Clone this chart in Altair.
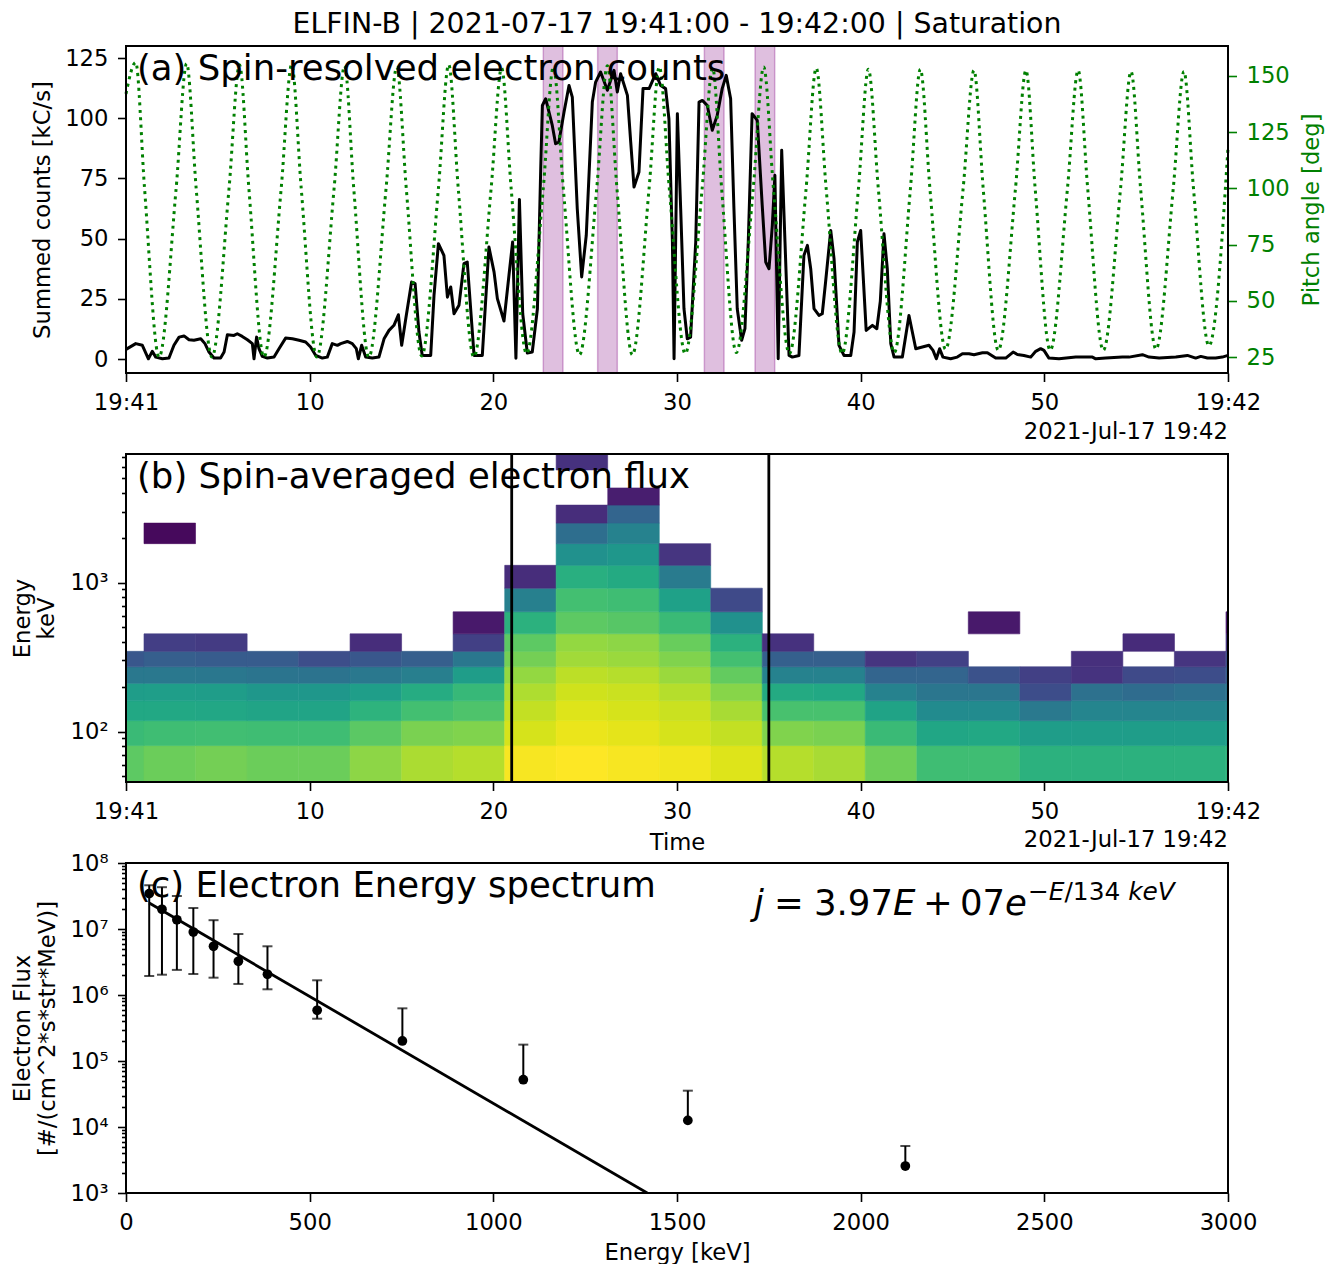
import math
import altair as alt
import pandas as pd

FONT = "DejaVu Sans"
W = 1102
HA, HB, HC = 327, 328, 330
GAP = 81
TICK_FS = 22.7
LABEL_FS = 35.5

# ---------------- panel (a): spin-resolved counts / pitch angle ----------------
counts_pts = [
    (0.00, 4.0), (0.53, 6.4), (0.89, 5.7), (1.22, 0.1), (1.43, 3.2), (1.62, 0.8), (1.98, 0.1),
    (2.34, 0.4), (2.61, 5.7), (2.89, 9.1), (3.16, 9.6), (3.43, 8.0), (3.70, 7.8), (4.07, 8.4),
    (4.30, 6.4), (4.52, 2.9), (4.79, 0.4), (5.15, 0.4), (5.34, 2.9), (5.52, 10.1), (5.88, 9.8),
    (6.06, 10.5), (6.33, 9.4), (6.61, 8.0), (6.88, 6.4), (6.97, 0.1), (7.11, 9.1), (7.24, 4.3),
    (7.42, 1.1), (7.70, 0.4), (8.06, 0.8), (8.33, 4.3), (8.69, 8.7), (9.06, 8.4), (9.42, 7.8),
    (9.78, 7.1), (10.05, 5.0), (10.33, 1.5), (10.69, 0.4), (10.96, 0.8), (11.23, 6.4), (11.51, 5.7),
    (11.69, 6.4), (12.05, 7.3), (12.32, 6.4), (12.54, 4.3), (12.65, 0.1), (12.83, 5.7), (13.05, 0.8),
    (13.41, 0.4), (13.77, 0.8), (14.05, 8.4), (14.32, 11.9), (14.59, 14.0), (14.83, 18.4), (15.01, 5.7),
    (15.26, 18.1), (15.55, 32.0), (15.74, 31.3), (15.95, 11.2), (16.13, 1.5), (16.59, 1.5), (16.77, 26.4),
    (17.01, 47.9), (17.31, 43.0), (17.50, 25.7), (17.68, 29.9), (17.86, 18.8), (18.13, 22.3), (18.40, 39.6),
    (18.58, 40.3), (18.95, 1.5), (19.40, 1.5), (19.76, 46.5), (20.04, 36.1), (20.22, 25.1), (20.58, 15.8),
    (20.85, 34.7), (21.05, 48.6), (21.23, 0.3), (21.42, 66.3), (21.60, 18.8), (21.85, 2.5), (22.12, 2.9),
    (22.40, 20.9), (22.58, 79.0), (22.67, 105.3), (22.85, 108.1), (23.21, 97.0), (23.39, 89.4), (23.57, 90.1),
    (23.85, 102.6), (24.12, 113.6), (24.30, 108.8), (24.57, 62.4), (24.81, 34.1), (25.06, 51.4), (25.39, 106.7),
    (25.57, 115.0), (25.84, 119.2), (26.21, 111.6), (26.57, 119.9), (26.75, 110.9), (26.93, 118.5), (27.30, 109.5),
    (27.48, 90.1), (27.66, 71.4), (27.93, 77.7), (28.15, 112.3), (28.48, 112.3), (28.84, 118.5), (29.11, 113.6),
    (29.38, 112.3), (29.56, 99.8), (29.75, 48.6), (29.84, 0.1), (30.02, 101.9), (30.20, 62.4), (30.38, 20.9),
    (30.56, 8.4), (30.74, 9.1), (31.02, 48.6), (31.20, 106.7), (31.38, 107.4), (31.65, 105.3), (31.92, 95.0),
    (32.19, 101.2), (32.46, 112.3), (32.68, 117.8), (32.92, 108.1), (33.10, 62.4), (33.28, 20.9), (33.52, 7.8),
    (33.70, 12.6), (33.88, 48.6), (34.09, 101.9), (34.37, 99.1), (34.64, 63.8), (34.83, 40.3), (35.01, 37.5),
    (35.19, 55.5), (35.33, 76.3), (35.51, 0.1), (35.70, 86.7), (35.88, 48.6), (36.10, 1.5), (36.28, 0.8),
    (36.64, 1.5), (36.91, 43.0), (37.10, 47.2), (37.28, 37.5), (37.46, 20.9), (37.73, 18.1), (37.91, 18.8),
    (38.09, 32.0), (38.37, 53.4), (38.55, 41.7), (38.82, 5.7), (39.09, 1.5), (39.46, 1.5), (39.64, 11.2),
    (39.82, 48.6), (40.00, 53.4), (40.30, 11.9), (40.64, 14.0), (40.88, 12.6), (41.07, 24.0), (41.27, 52.0),
    (41.45, 37.5), (41.64, 6.4), (41.82, 0.8), (42.27, 0.8), (42.63, 18.1), (43.00, 4.3), (43.36, 5.0),
    (43.72, 5.7), (43.94, 3.6), (44.12, 0.1), (44.30, 4.3), (44.48, 0.8), (44.90, 0.1), (45.26, 0.8),
    (45.54, 2.2), (45.90, 2.2), (46.17, 1.8), (46.63, 2.6), (46.90, 2.6), (47.35, 0.4), (47.90, 0.4),
    (48.30, 2.9), (48.53, 1.9), (48.89, 1.5), (49.26, 0.8), (49.53, 3.2), (49.80, 4.3), (49.98, 3.6),
    (50.25, 0.4), (50.80, 0.1), (51.71, 0.8), (52.62, 0.8), (52.80, 0.1), (53.34, 0.4), (54.25, 0.8),
    (54.61, 0.8), (55.34, 1.8), (55.70, 0.8), (56.25, 0.4), (57.16, 0.8), (57.79, 1.5), (58.24, 0.4),
    (58.52, 1.1), (58.88, 0.4), (59.33, 0.4), (59.69, 0.8), (60.00, 1.5),
]

pitch_pts = [
    (0.00, 142), (0.53, 156), (1.01, 100), (1.80, 25), (2.73, 100), (3.30, 155.5), (3.82, 100),
    (4.68, 25), (5.61, 100), (6.18, 155), (6.69, 100), (7.51, 25), (8.45, 100), (9.02, 155),
    (9.54, 100), (10.39, 25), (11.33, 100), (11.90, 154.5), (12.40, 100), (13.22, 25), (14.16, 100),
    (14.74, 154), (15.26, 100), (16.10, 25.5), (17.01, 100), (17.57, 155), (18.09, 100), (18.94, 25),
    (19.88, 100), (20.45, 153.5), (20.97, 100), (21.81, 26.5), (22.72, 100), (23.27, 154), (23.81, 100),
    (24.69, 26), (25.63, 100), (26.21, 154.5), (26.73, 100), (27.57, 26), (28.48, 100), (29.04, 154),
    (29.58, 100), (30.45, 26.5), (31.37, 100), (31.94, 153.5), (32.43, 100), (33.23, 27), (34.15, 100),
    (34.72, 154), (35.25, 100), (36.12, 26.5), (37.03, 100), (37.58, 153.5), (38.12, 100), (38.99, 26.5),
    (39.88, 100), (40.42, 153), (40.96, 100), (41.83, 27), (42.71, 100), (43.25, 153), (43.77, 100),
    (44.62, 28.5), (45.58, 100), (46.17, 152.5), (46.67, 100), (47.49, 28), (48.43, 100), (49.00, 152.5),
    (49.50, 100), (50.32, 28), (51.26, 100), (51.84, 152.5), (52.36, 100), (53.21, 28), (54.15, 100),
    (54.72, 152), (55.24, 100), (56.08, 28.5), (57.02, 100), (57.60, 152), (58.12, 100), (58.96, 30),
    (60.00, 118),
]

shade_t0 = [22.72, 25.68, 31.49, 34.25]
shade_t1 = [23.79, 26.75, 32.56, 35.32]

# ---------------- panel (b): spin-averaged flux (log10 flux per cell) ----------------
energy_kev = [63.2, 97.9, 138.5, 183.3, 238.3, 305.9, 385.1, 520.4, 752.4, 1081.6,
              1529.5, 2121.6, 2893.9, 3728.3, 4906.1, 6500.0]
spin_t0 = [-1.82, 0.98, 3.79, 6.59, 9.40, 12.20, 15.01, 17.81, 20.62, 23.42, 26.23, 29.03,
           31.84, 34.64, 37.45, 40.25, 43.06, 45.86, 48.67, 51.47, 54.28, 57.08, 59.89]
spin_dt = 2.805
N = None
log_flux = [
    [6.10, 5.62, 5.08, 4.77, 3.72, 2.84],
    [6.27, 5.69, 5.08, 4.81, 3.72, 3.01, 2.22, N, N, N, N, 1.14],
    [6.37, 5.73, 5.05, 4.77, 3.69, 2.94, 2.16],
    [6.27, 5.69, 4.98, 4.60, 3.62, 2.94],
    [6.27, 5.69, 4.98, 4.60, 3.58, 2.60],
    [6.64, 6.07, 5.39, 4.81, 3.72, 2.84, 1.85],
    [6.95, 6.44, 5.76, 5.18, 3.89, 3.01],
    [7.05, 6.51, 5.90, 5.56, 4.77, 3.69, 2.26, 1.44],
    [7.73, 7.39, 7.19, 6.98, 6.71, 6.37, 6.10, 5.35, 3.92, 1.85],
    [7.80, 7.60, 7.46, 7.32, 7.12, 6.85, 6.71, 6.10, 5.76, 5.28, 4.40, 3.45, 1.85, N, N, 1.95],
    [7.73, 7.53, 7.39, 7.26, 7.05, 6.78, 6.64, 6.03, 5.69, 5.15, 4.60, 3.99, 3.18, 1.54],
    [7.66, 7.39, 7.26, 7.05, 6.78, 6.51, 6.24, 5.62, 4.88, 3.79, 2.02],
    [7.46, 7.19, 6.92, 6.58, 6.17, 5.76, 5.35, 4.40, 2.50],
    [7.05, 6.51, 5.83, 5.15, 3.99, 3.04, 1.95],
    [6.92, 6.44, 5.83, 5.08, 3.99, 3.04],
    [6.30, 5.62, 4.94, 3.99, 3.18, 2.02],
    [5.69, 5.01, 4.26, 3.65, 3.18, 2.29],
    [5.69, 5.08, 4.26, 3.65, 2.70, N, N, 1.44],
    [5.35, 4.77, 3.75, 2.56, 2.26],
    [5.35, 4.77, 4.06, 3.52, 1.98, 1.92],
    [5.35, 4.77, 4.06, 3.38, 2.50, N, 1.82],
    [5.35, 4.77, 4.06, 3.52, 2.56, 2.02],
    [5.42, 4.81, 4.13, 3.58, 3.04, 2.63, 2.02, 1.48],
]
window_t = [21.0, 35.0]

# ---------------- panel (c): energy spectrum ----------------
spec_e = [63.2, 97.9, 138.5, 183.3, 238.3, 305.9, 385.1, 520.4, 752.4, 1081.6, 1529.5, 2121.6]
spec_j = [3.43e7, 1.99e7, 1.38e7, 9.0e6, 5.47e6, 3.24e6, 2.06e6, 5.87e5, 2.01e5, 5.2e4, 1.26e4, 2.56e3]
spec_lo = [1.94e6, 2.03e6, 2.4e6, 2.08e6, 1.83e6, 1.47e6, 1.22e6, 4.37e5, N, N, N, N]
spec_hi = [4.6e7, 4.3e7, 3.16e7, 2.08e7, 1.36e7, 8.4e6, 5.47e6, 1.67e6, 6.28e5, 1.77e5, 3.55e4, 5.15e3]
fit_a = 3.97e7
fit_e0 = 134.0

# ======================================================================
ONE = pd.DataFrame({"k": [0]})


def text(t, x, y, size, align="left", style="normal", color="black"):
    return alt.Chart(ONE).mark_text(
        text=t, font=FONT, fontSize=size, align=align, baseline="alphabetic",
        fontStyle=style, color=color,
    ).encode(x=alt.value(x), y=alt.value(y))


def frame(h):
    return alt.Chart(ONE).mark_rect(
        fill="transparent", stroke="black", strokeWidth=2
    ).encode(x=alt.value(0), x2=alt.value(W), y=alt.value(0), y2=alt.value(h))


def time_axis(title=None, title_y=None):
    kw = dict(
        values=[0, 10, 20, 30, 40, 50, 60],
        labelExpr="datum.value == 0 ? '19:41' : datum.value == 60 ? '19:42' : format(datum.value, 'd')",
        labelFlush=False, labelOverlap=False, tickSize=8.5, labelPadding=9.5,
    )
    if title is None:
        kw["title"] = None
    else:
        kw.update(title=title, titleY=title_y, titleBaseline="alphabetic")
    return alt.Axis(**kw)


xs = alt.Scale(domain=[0, 60], nice=False, zero=False)

# ---------- panel a ----------
ax_a = time_axis()
df_counts = pd.DataFrame(counts_pts, columns=["t", "c"])
df_pitch = pd.DataFrame(pitch_pts, columns=["t", "pa"])
df_shade = pd.DataFrame({"t0": shade_t0, "t1": shade_t1})

shade = alt.Chart(df_shade).mark_rect(
    fill="purple", fillOpacity=0.25, stroke="purple", strokeOpacity=0.3, strokeWidth=1.5
).encode(
    x=alt.X("t0:Q", scale=xs, axis=ax_a), x2="t1:Q",
    y=alt.value(0), y2=alt.value(HA),
)

counts = alt.Chart(df_counts).mark_line(
    color="black", strokeWidth=3.0, strokeJoin="round"
).encode(
    x=alt.X("t:Q", scale=xs, axis=ax_a),
    y=alt.Y("c:Q", scale=alt.Scale(domain=[-5.8, 130.0], nice=False, zero=False),
            axis=alt.Axis(values=[0, 25, 50, 75, 100, 125], title="Summed counts [kC/s]",
                          titleX=-83.5, titleY=HA / 2, titleAngle=270, titleBaseline="middle",
                          tickSize=8.5, labelPadding=9.5)),
)

pitch = alt.Chart(df_pitch).mark_line(
    color="green", strokeWidth=3.0, strokeDash=[3.0, 4.4], interpolate="monotone", strokeCap="butt"
).encode(
    x=alt.X("t:Q", scale=xs, axis=ax_a),
    y=alt.Y("pa:Q", scale=alt.Scale(domain=[17.9, 163.3], nice=False, zero=False),
            axis=alt.Axis(orient="right", values=[25, 50, 75, 100, 125, 150],
                          title="Pitch angle [deg]", titleColor="green", labelColor="green",
                          tickColor="green", titleX=83.5, titleY=HA / 2, titleAngle=270,
                          titleBaseline="middle", tickSize=8.5, labelPadding=9.5)),
)

panel_a = alt.layer(
    shade, counts, pitch,
    text("(a) Spin-resolved electron counts", 11, 34, LABEL_FS),
    text("ELFIN-B | 2021-07-17 19:41:00 - 19:42:00 | Saturation", W / 2, -13.3, 28.4, align="center"),
    text("2021-Jul-17 19:42", W, HA + 66, TICK_FS, align="right"),
    frame(HA),
).resolve_scale(y="independent").properties(width=W, height=HA)

# ---------- panel b ----------
e_lo = [energy_kev[0] - (energy_kev[1] - energy_kev[0]) / 2] + [
    (energy_kev[i - 1] + energy_kev[i]) / 2 for i in range(1, len(energy_kev))]
e_hi = e_lo[1:] + [energy_kev[-1] + (energy_kev[-1] - energy_kev[-2]) / 2]

heat_rows = []
for k, col in enumerate(log_flux):
    for i, val in enumerate(col):
        if val is None:
            continue
        heat_rows.append({"t0": spin_t0[k], "t1": spin_t0[k] + spin_dt,
                          "e0": e_lo[i], "e1": e_hi[i], "logf": val})
df_heat = pd.DataFrame(heat_rows)

b_ticks = [50, 60, 70, 80, 90, 100, 200, 300, 400, 500, 600, 700, 800, 900,
           1000, 2000, 3000, 4000, 5000, 6000, 7000]
ay_b = alt.Axis(
    values=b_ticks, labelOverlap=False,
    labelExpr="datum.value == 100 ? '10²' : datum.value == 1000 ? '10³' : ''",
    tickSize={"condition": {"test": "datum.value == 100 || datum.value == 1000", "value": 8.5}, "value": 4.5},
    labelPadding=9.5, title=["Energy", "keV"], titleX=-104, titleY=HB / 2, titleAngle=270,
    titleBaseline="middle", titleLineHeight=24,
)
ax_b = time_axis("Time", 67)
ys_b = alt.Scale(type="log", domain=[e_lo[0], e_hi[-1]], nice=False)
cscale = alt.Scale(scheme="viridis", domain=[1.0, 7.8], clamp=True)

heat = alt.Chart(df_heat).mark_rect(clip=True, strokeWidth=0.6).encode(
    x=alt.X("t0:Q", scale=xs, axis=ax_b), x2="t1:Q",
    y=alt.Y("e0:Q", scale=ys_b, axis=ay_b), y2="e1:Q",
    fill=alt.Fill("logf:Q", scale=cscale, legend=None),
    stroke=alt.Stroke("logf:Q", scale=cscale, legend=None),
)
win = alt.Chart(pd.DataFrame({"t": window_t})).mark_rule(color="black", strokeWidth=2.8).encode(
    x=alt.X("t:Q", scale=xs, axis=ax_b), y=alt.value(0), y2=alt.value(HB),
)
panel_b = alt.layer(
    heat,
    text("(b) Spin-averaged electron flux", 11, 34, LABEL_FS),
    win,
    text("2021-Jul-17 19:42", W, HB + 65, TICK_FS, align="right"),
    frame(HB),
).properties(width=W, height=HB)

# ---------- panel c ----------
df_spec = pd.DataFrame({
    "E": spec_e, "j": spec_j, "hi": spec_hi,
    "lo": [lo if lo is not None else j for lo, j in zip(spec_lo, spec_j)],
})
df_locap = pd.DataFrame({"E": [e for e, lo in zip(spec_e, spec_lo) if lo is not None],
                         "lo": [lo for lo in spec_lo if lo is not None]})
e_end = fit_e0 * math.log(fit_a / 1e3)
df_fit = pd.DataFrame({"E": [spec_e[0], e_end],
                       "j": [fit_a * math.exp(-spec_e[0] / fit_e0), fit_a * math.exp(-e_end / fit_e0)]})

c_ticks = [m * 10 ** p for p in range(3, 8) for m in range(1, 10)] + [10 ** 8]
sup = {3: "³", 4: "⁴", 5: "⁵", 6: "⁶", 7: "⁷", 8: "⁸"}
c_expr = " : ".join([f"datum.value == {10 ** p} ? '10{s}'" for p, s in sup.items()]) + " : ''"
ay_c = alt.Axis(
    values=c_ticks, labelOverlap=False, labelExpr=c_expr,
    tickSize={"condition": {"test": "indexof([1000,10000,100000,1000000,10000000,100000000], datum.value) >= 0",
                            "value": 8.5}, "value": 4.5},
    labelPadding=9.5, title=["Electron Flux", "[#/(cm^2*s*str*MeV)]"], titleX=-104, titleY=HC / 2,
    titleAngle=270, titleBaseline="middle", titleLineHeight=25,
)
ax_c = alt.Axis(values=[0, 500, 1000, 1500, 2000, 2500, 3000], format="d", labelFlush=False,
                labelOverlap=False, tickSize=8.5, labelPadding=9.5, title="Energy [keV]", titleY=66.5,
                titleBaseline="alphabetic")
xs_c = alt.Scale(domain=[0, 3000], nice=False, zero=False)
ys_c = alt.Scale(type="log", domain=[1e3, 1e8], nice=False)

fit = alt.Chart(df_fit).mark_line(color="black", strokeWidth=2.8, clip=True).encode(
    x=alt.X("E:Q", scale=xs_c, axis=ax_c), y=alt.Y("j:Q", scale=ys_c, axis=ay_c))
bars = alt.Chart(df_spec).mark_rule(color="black", strokeWidth=2).encode(
    x=alt.X("E:Q", scale=xs_c, axis=ax_c), y=alt.Y("lo:Q", scale=ys_c, axis=ay_c), y2="hi:Q")
capsh = alt.Chart(df_spec).mark_tick(color="black", orient="horizontal", size=10, thickness=2).encode(
    x=alt.X("E:Q", scale=xs_c, axis=ax_c), y=alt.Y("hi:Q", scale=ys_c, axis=ay_c))
capsl = alt.Chart(df_locap).mark_tick(color="black", orient="horizontal", size=10, thickness=2).encode(
    x=alt.X("E:Q", scale=xs_c, axis=ax_c), y=alt.Y("lo:Q", scale=ys_c, axis=ay_c))
pts = alt.Chart(df_spec).mark_circle(color="black", size=95, opacity=1).encode(
    x=alt.X("E:Q", scale=xs_c, axis=ax_c), y=alt.Y("j:Q", scale=ys_c, axis=ay_c))

SUP_FS = LABEL_FS * 0.7
panel_c = alt.layer(
    text("(c) Electron Energy spectrum", 11, 34, LABEL_FS),
    fit, bars, capsh, capsl, pts,
    text("j", 628, 52, LABEL_FS, style="italic"),
    text("=", 648, 52, LABEL_FS),
    text("3.97", 688, 52, LABEL_FS),
    text("E", 767, 52, LABEL_FS, style="italic"),
    text("+", 797, 52, LABEL_FS),
    text("07", 834, 52, LABEL_FS),
    text("e", 879, 52, LABEL_FS, style="italic"),
    text("\u2212", 902, 37, SUP_FS),
    text("E", 922.8, 37, SUP_FS, style="italic"),
    text("/134", 938.5, 37, SUP_FS),
    text("keV", 1002.2, 37, SUP_FS, style="italic"),
    frame(HC),
).properties(width=W, height=HC)

chart = alt.vconcat(panel_a, panel_b, panel_c, spacing=GAP, bounds="flush").properties(
    padding={"left": 3, "top": 1, "right": 4, "bottom": 0}
).configure(font=FONT).configure_view(stroke=None).configure_axis(
    labelFont=FONT, titleFont=FONT, labelFontSize=TICK_FS, titleFontSize=TICK_FS,
    titleFontWeight="normal", labelColor="black", titleColor="black", tickColor="black",
    tickWidth=1.6, domain=False, grid=False,
)

chart.save("out.html", embed_options={"renderer": "svg", "actions": False})
